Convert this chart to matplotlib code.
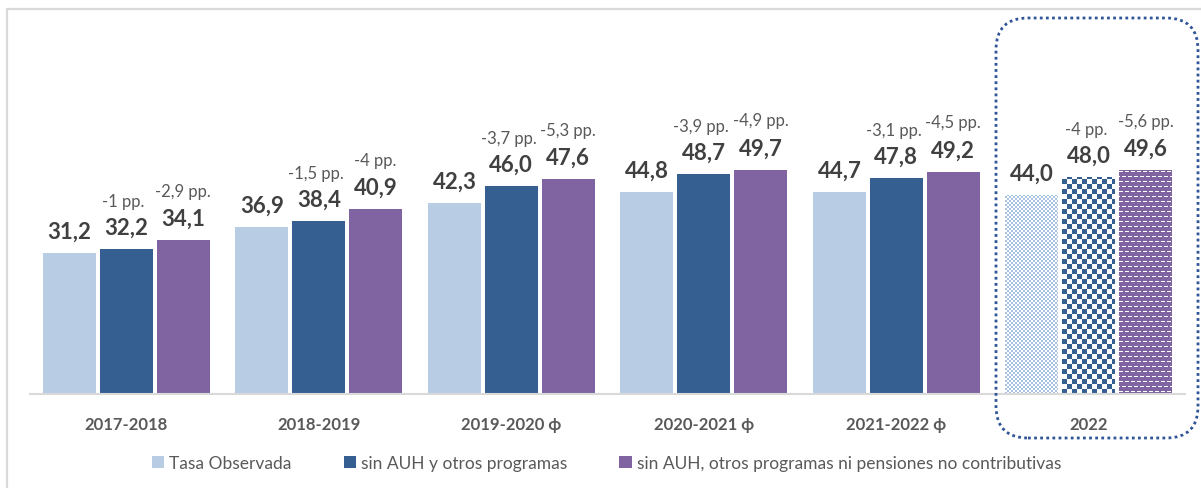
import numpy as np
import matplotlib.pyplot as plt
from matplotlib.patches import Rectangle, FancyBboxPatch

plt.rcParams['font.family'] = ['Lato', 'DejaVu Sans']

categories = ['2017-2018', '2018-2019', '2019-2020 ϕ', '2020-2021 ϕ', '2021-2022 ϕ', '2022']
tasa = [31.2, 36.9, 42.3, 44.8, 44.7, 44.0]
sin_auh = [32.2, 38.4, 46.0, 48.7, 47.8, 48.0]
sin_auh_pnc = [34.1, 40.9, 47.6, 49.7, 49.2, 49.6]
diff_auh = ['-1 pp.', '-1,5 pp.', '-3,7 pp.', '-3,9 pp.', '-3,1 pp.', '-4 pp.']
diff_pnc = ['-2,9 pp.', '-4 pp.', '-5,3 pp.', '-4,9 pp.', '-4,5 pp.', '-5,6 pp.']
names = ['Tasa Observada', 'sin AUH y otros programas',
         'sin AUH, otros programas ni pensiones no contributivas']
colors = ['#B8CCE4', '#355F91', '#8064A2']

W, H = 1201, 489
fig = plt.figure(figsize=(W / 100, H / 100), dpi=100)
ax = fig.add_axes([30 / W, (H - 395) / H, 1155 / W, 316 / H])
ax.set_xlim(-0.5, 5.5)
ax.set_ylim(0, 70)

x = np.arange(len(categories))
bw = 0.275
step = 0.295
series = [tasa, sin_auh, sin_auh_pnc]
bars = []
for k, vals in enumerate(series):
    b = ax.bar(x[:5] + (k - 1) * step, vals[:5], bw, color=colors[k], label=names[k])
    b2 = ax.bar(x[5:] + (k - 1) * step, vals[5:], bw, color='none')
    bars.append((b, b2))

# patterned bars for 2022
def pattern(kind, h, w):
    r, c = np.mgrid[0:h, 0:w]
    img = np.ones((h, w, 3))
    if kind == 0:
        m = ((r // 2 + c // 2) % 2) == 0
        col = np.array([0xA9, 0xC2, 0xE2]) / 255
    elif kind == 1:
        m = ((r // 5 + c // 5) % 2) == 0
        col = np.array([0x35, 0x5F, 0x91]) / 255
    else:
        row = r % 5
        off = (r // 5) % 2 * 3
        white = (row == 2) & (((c + off) % 6) < 4)
        m = ~white
        col = np.array([0x80, 0x64, 0xA2]) / 255
    img[m] = col
    return img

for k in range(3):
    p = bars[k][1].patches[0]
    x0, y0 = p.get_x(), 0
    x1, y1 = x0 + p.get_width(), p.get_height()
    (px0, py0), (px1, py1) = ax.transData.transform([(x0, y0), (x1, y1)])
    img = pattern(k, int(round(py1 - py0)), int(round(px1 - px0)))
    im = ax.imshow(img, extent=(x0, x1, y0, y1), origin='lower',
                   interpolation='nearest', aspect='auto', zorder=2)
    im.set_clip_path(p)

ax.set_xlim(-0.5, 5.5)
ax.set_ylim(0, 70)

# value labels
for k, vals in enumerate(series):
    for i, v in enumerate(vals):
        ax.annotate(f'{v:.1f}'.replace('.', ','), (x[i] + (k - 1) * step, v),
                    xytext=(0, 11), textcoords='offset points', ha='center',
                    va='baseline', fontsize=16, fontweight='bold', color='#404040',
                    annotation_clip=False)
for i in range(len(categories)):
    ax.annotate(diff_auh[i], (x[i], sin_auh[i]), xytext=(-2, 31),
                textcoords='offset points', ha='center', va='baseline',
                fontsize=12, color='#595959', annotation_clip=False)
    ax.annotate(diff_pnc[i], (x[i] + step, sin_auh_pnc[i]), xytext=(0, 32),
                textcoords='offset points', ha='center', va='baseline',
                fontsize=12, color='#595959', annotation_clip=False)

for s in ['top', 'right', 'left']:
    ax.spines[s].set_visible(False)
ax.spines['bottom'].set_color('#D9D9D9')
ax.spines['bottom'].set_linewidth(1.5)
ax.set_yticks([])
ax.set_xticks(x)
ax.set_xticklabels(categories, fontsize=12, fontweight='bold', color='#595959')
ax.tick_params(axis='x', length=0, pad=16)

leg = fig.legend(handles=[b[0] for b in bars], loc='center', ncol=3,
                 bbox_to_anchor=(0.505, (H - 464) / H), frameon=False,
                 fontsize=12.5, handlelength=0.7, handleheight=0.7,
                 handletextpad=0.3, columnspacing=3.0)
for t in leg.get_texts():
    t.set_color('#595959')

# chart border and highlight box
fig.add_artist(Rectangle((7 / W, -0.2), 1.2, (H - 10) / H + 0.2, transform=fig.transFigure,
                         fill=False, edgecolor='#D9D9D9', linewidth=1.6))
fig.add_artist(FancyBboxPatch((9.96, 0.50), 2.02, 4.20, boxstyle='round,pad=0,rounding_size=0.32',
                              transform=fig.dpi_scale_trans, fill=False,
                              edgecolor='#2F5597', linestyle=(0, (1, 1.2)), linewidth=2))

fig.savefig('out.png', dpi=100)
